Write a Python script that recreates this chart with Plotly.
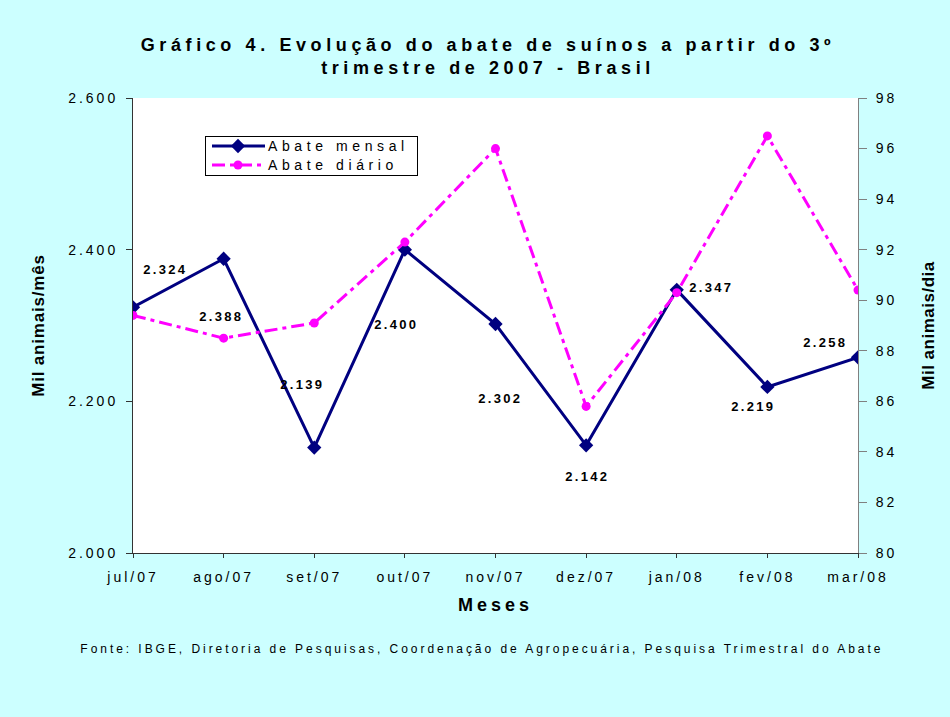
import plotly.graph_objects as go

meses = ["jul/07", "ago/07", "set/07", "out/07", "nov/07", "dez/07", "jan/08", "fev/08", "mar/08"]
abate_mensal = [2324, 2388, 2139, 2400, 2302, 2142, 2347, 2219, 2258]
abate_diario = [89.4, 88.5, 89.1, 92.3, 96.0, 85.8, 90.3, 96.5, 90.4]

# label offsets (pixels) for the monthly data labels
label_dx = [32, -2, -12, -8, 5, 1, 35, -14, -33]
label_dy = [38, -58, 63, -75, -75, -31, 2, -20, 15]

FONT = "Liberation Sans, Arial, sans-serif"
BLACK = "#000000"

fig = go.Figure()
fig.add_trace(go.Scatter(
    x=meses, y=abate_mensal, name="Abate mensal", mode="lines+markers",
    line=dict(color="#000080", width=3),
    marker=dict(symbol="diamond", size=11, color="#000080"),
    yaxis="y"))
fig.add_trace(go.Scatter(
    x=meses, y=abate_diario, name="Abate diário", mode="lines+markers",
    line=dict(color="#FF00FF", width=3, dash="13px,5px,4px,5px"),
    marker=dict(symbol="circle", size=9, color="#FF00FF"),
    yaxis="y2"))

for i, (m, v) in enumerate(zip(meses, abate_mensal)):
    fig.add_annotation(x=m, y=v, xref="x", yref="y",
                       text=f"{v:,}".replace(",", "."), showarrow=False,
                       xshift=label_dx[i], yshift=label_dy[i],
                       font=dict(family=FONT, size=13, color=BLACK, weight="bold"))

fig.add_annotation(
    text="Fonte: IBGE, Diretoria de Pesquisas, Coordenação de Agropecuária, Pesquisa Trimestral do Abate",
    xref="paper", yref="paper", x=(482 - 133) / 725, y=-(649 - 553) / 455,
    xanchor="center", yanchor="middle",
    showarrow=False, font=dict(family=FONT, size=12, color=BLACK))

fig.update_layout(
    width=950, height=717,
    paper_bgcolor="#CCFFFF", plot_bgcolor="#FFFFFF",
    separators=",.",
    margin=dict(l=133, r=92, t=98, b=164),
    title=dict(text="Gráfico 4. Evolução do abate de suínos a partir do 3º<br>trimestre de 2007 - Brasil",
               x=488 / 950, xanchor="center", y=1 - 51 / 717, yanchor="middle",
               font=dict(family=FONT, size=18, color=BLACK, weight="bold")),
    xaxis=dict(type="category", range=[0, 8], showgrid=False,
               showline=True, linecolor="#333333", linewidth=1,
               ticks="outside", ticklen=4, tickcolor="#333333",
               ticklabelstandoff=7,
               tickfont=dict(family=FONT, size=14, color=BLACK),
               title=dict(text="Meses", font=dict(family=FONT, size=18, color=BLACK, weight="bold"), standoff=14)),
    yaxis=dict(range=[2000, 2600], dtick=200, tickformat=",d", showgrid=False,
               showline=True, linecolor="#333333", linewidth=1,
               ticks="outside", ticklen=6, tickcolor="#333333",
               ticklabelstandoff=5,
               tickfont=dict(family=FONT, size=14, color=BLACK),
               title=dict(text="Mil animais/mês", font=dict(family=FONT, size=17, color=BLACK, weight="bold"), standoff=34),
               zeroline=False),
    yaxis2=dict(range=[80, 98], dtick=2, overlaying="y", side="right", showgrid=False,
                showline=True, linecolor="#808080", linewidth=1,
                ticks="outside", ticklen=8, tickcolor="#808080",
                ticklabelstandoff=6,
                tickfont=dict(family=FONT, size=14, color=BLACK),
                title=dict(text="Mil animais/dia", font=dict(family=FONT, size=17, color=BLACK, weight="bold"), standoff=31),
                zeroline=False),
    legend=dict(x=(205 - 133) / 725, y=(553 - 136) / 455, xanchor="left", yanchor="top",
                bgcolor="#FFFFFF", bordercolor=BLACK, borderwidth=1,
                font=dict(family=FONT, size=14, color=BLACK),
                tracegroupgap=0, itemwidth=52),
    showlegend=True,
)

post = """
document.body.style.margin = '0';
var gd = document.getElementById('{plot_id}');
function sp(sel, v) { gd.querySelectorAll(sel).forEach(function(t){ t.style.letterSpacing = v; }); }
sp('.gtitle', '4.6px');
sp('.xtick text', '3px');
sp('.ytick text', '3px');
sp('.y2tick text', '3px');
sp('.xtitle', '4px');
sp('.ytitle', '0.8px');
sp('.y2title', '0.5px');
sp('.legendtext', '4.6px');
gd.querySelectorAll('.annotation-text').forEach(function(t){
  if (t.textContent.indexOf('Fonte') === 0) { t.style.letterSpacing = '2.95px'; }
  else { t.style.letterSpacing = '2.3px'; }
});
var leg = gd.querySelector('.legend');
if (leg) {
  var sb = leg.querySelector('.scrollbox');
  if (sb) { sb.removeAttribute('clip-path'); }
  var items = leg.querySelectorAll('.traces');
  var ys = [10, 29];
  items.forEach(function(g, i){
    var tr = g.getAttribute('transform') || '';
    var m = /translate\\(([-\\d.]+)[ ,]+([-\\d.]+)\\)/.exec(tr);
    var x = m ? parseFloat(m[1]) : 1;
    if (i < ys.length) { g.setAttribute('transform', 'translate(' + x + ',' + ys[i] + ')'); }
    g.querySelectorAll('.legendlines path').forEach(function(p){ p.setAttribute('d', 'M6,0h53'); });
    g.querySelectorAll('.legendpoints path').forEach(function(p){ p.setAttribute('transform', 'translate(32,0)'); });
  });
  var bg = leg.querySelector('rect.bg');
  var bb = sb.getBBox();
  if (bg) { bg.setAttribute('width', bb.x + bb.width + 8); bg.setAttribute('height', 39); }
}
"""

fig.write_html("out.html", post_script=post, config={"displayModeBar": False})
